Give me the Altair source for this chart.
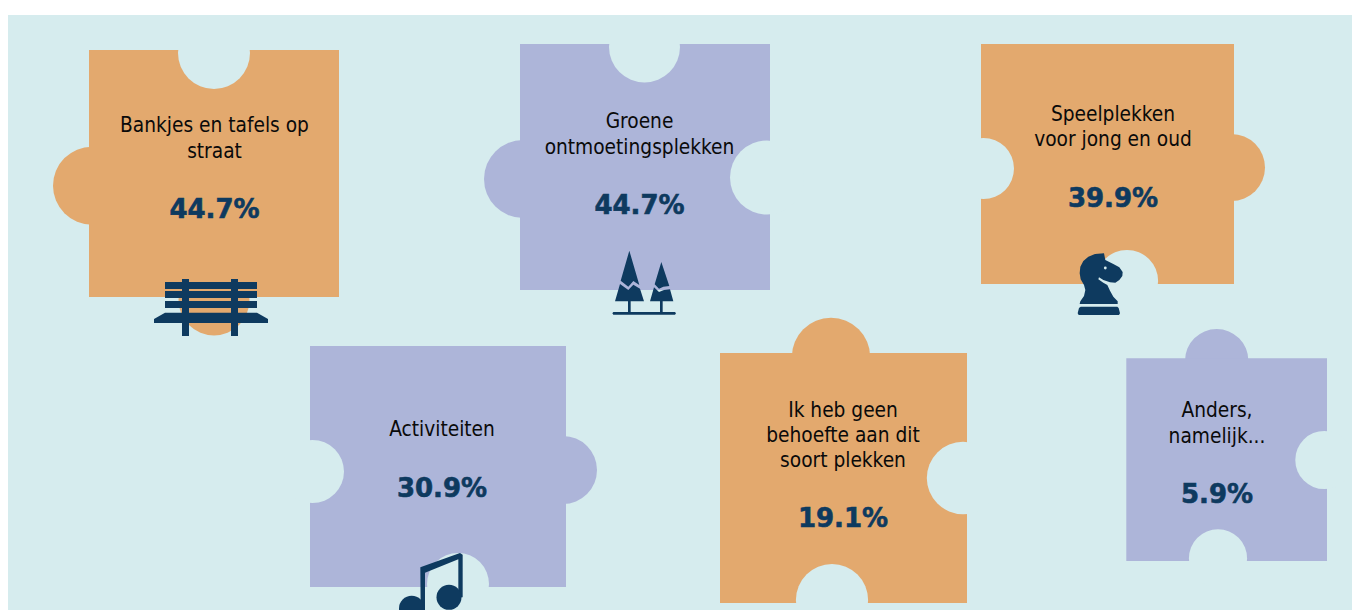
import altair as alt
import pandas as pd

# ---- content ----
labels = [
    ["Bankjes en tafels op", "straat"],
    ["Groene", "ontmoetingsplekken"],
    ["Speelplekken", "voor jong en oud"],
    ["Activiteiten"],
    ["Ik heb geen", "behoefte aan dit", "soort plekken"],
    ["Anders,", "namelijk..."],
]
percents = ["44.7%", "44.7%", "39.9%", "30.9%", "19.1%", "5.9%"]

BG = "#D6ECEE"
ORANGE = "#E3A96E"
LAV = "#ADB5D9"
NAVY = "#0E3A5F"
piece_colors = [ORANGE, LAV, ORANGE, LAV, ORANGE, LAV]

# page-pixel scale geometry of the pieces
rect_x1 = [89, 520, 981, 310, 720, 1126.3]
rect_x2 = [339, 770, 1234, 566, 967, 1327]
rect_y1 = [50, 44, 44, 346, 353, 358.3]
rect_y2 = [297, 290, 284, 587, 603, 561]

# tabs: piece index, cx, cy, r
tabs = [
    (0, 92, 185.7, 39), (0, 214, 300, 35.5),
    (1, 523, 179, 39),
    (2, 1231.4, 167.5, 33.6),
    (3, 563, 470, 34),
    (4, 831, 357, 39.2),
    (5, 1216.7, 360.7, 31.7),
]
# notches: cx, cy, r
notches = [
    (214, 53, 36),
    (644.5, 47, 35.5), (767, 177.5, 37),
    (983.4, 168.5, 30.6), (1127, 281, 31.1),
    (312.4, 471.5, 31.6), (458, 584, 31),
    (963, 478, 36.2), (832, 600, 36.1),
    (1324.4, 460, 29.1), (1218, 558.4, 29.1),
]

text_x = [214.5, 639.5, 1113, 442, 843, 1217]
label_base = [[132, 158], [128, 154], [121, 146], [436], [416.5, 441.5, 466.5], [417, 442.7]]
pct_base = [218, 214, 206.5, 497, 527, 503]


def poly(points, ox, oy, cx, cy):
    """SVG path from points in 3x zoom units, relative to the icon's centre."""
    parts = []
    for i, (zx, zy) in enumerate(points):
        px = ox + zx / 3 - cx
        py = oy + zy / 3 - cy
        parts.append(("M" if i == 0 else "L") + f"{px:.2f},{py:.2f}")
    return "".join(parts) + "Z"


# bench, origin (140,270)
bench_shapes = [
    [(75, 36), (351, 36), (351, 57), (75, 57)],
    [(75, 63), (351, 63), (351, 84), (75, 84)],
    [(75, 93), (351, 93), (351, 114), (75, 114)],
    [(126, 27), (147, 27), (147, 198), (126, 198)],
    [(273, 27), (294, 27), (294, 198), (273, 198)],
    [(75, 128), (351, 128), (384, 147), (384, 159), (42, 159), (42, 147)],
]
# trees, origin (590,230)
tree_shapes = [
    [(118, 62), (148, 165), (130, 153), (115, 170), (92, 152)],
    [(90, 162), (115, 180), (130, 164), (150, 176), (162, 214), (75, 214)],
    [(114, 214), (122, 214), (122, 248), (114, 248)],
    [(214, 96), (238, 168), (220, 170), (207, 176), (194, 163)],
    [(192, 172), (207, 186), (222, 180), (240, 178), (250, 214), (180, 214)],
    [(210, 214), (218, 214), (218, 248), (210, 248)],
    [(70, 246), (255, 246), (258, 250), (255, 254), (70, 254), (67, 250)],
]
# knight, origin (1060,240)
knight_shapes = [
    [(62, 200), (172, 200), (176, 204), (180, 220), (177, 225), (56, 225), (53, 220), (57, 204)],
    [(132, 40), (136, 60), (160, 72), (178, 82), (188, 96), (187, 108), (178, 120), (166, 128),
     (150, 127), (130, 120), (117, 112), (115, 118), (130, 128), (142, 135), (150, 152), (160, 170),
     (173, 184), (173, 192), (59, 192), (61, 184), (72, 168), (76, 150), (72, 135), (62, 118), (59, 100),
     (61, 80), (70, 63), (85, 50), (105, 42)],
]
# music note stems and beam, origin (380,540)
note_shapes = [
    [(121, 82), (240, 39), (248, 44), (248, 172), (235, 172), (235, 58), (135, 98), (135, 210), (122, 210)],
]
note_heads = [(449, 597.3, 12.5), (411.7, 608.5, 12.7)]
knight_eye = (1105.3, 268, 1.4)

icons = [
    (211, 307, bench_shapes, 140, 270),
    (645, 285, tree_shapes, 590, 230),
    (1100, 285, knight_shapes, 1060, 240),
    (440, 580, note_shapes, 380, 540),
]

X = alt.X("x:Q", axis=None, scale=alt.Scale(domain=[8, 1352], range=[0, 1344], nice=False, zero=False))
Y = alt.Y("y:Q", axis=None, scale=alt.Scale(domain=[610, 8], range=[602, 0], nice=False, zero=False))
X2 = alt.X2("x2:Q")
Y2 = alt.Y2("y2:Q")
FILL = alt.Color("c:N", scale=None, legend=None)
SIZE = alt.Size("s:Q", scale=None, legend=None)


def area(r):
    # Vega's circle symbol has diameter sqrt(size)
    return 4 * r * r


rect_rows = [dict(x=8, x2=1352, y=15, y2=610, c=BG)]
for i in range(6):
    rect_rows.append(dict(x=rect_x1[i], x2=rect_x2[i], y=rect_y1[i], y2=rect_y2[i], c=piece_colors[i]))
top_strip = [dict(x=8, x2=1352, y=8, y2=15, c="white")]
tab_rows = [dict(x=x, y=y, s=area(r), c=piece_colors[i]) for i, x, y, r in tabs]
notch_rows = [dict(x=x, y=y, s=area(r), c=BG) for x, y, r in notches]
head_rows = [dict(x=x, y=y, s=area(r), c=NAVY) for x, y, r in note_heads]
eye_rows = [dict(x=knight_eye[0], y=knight_eye[1], s=area(knight_eye[2]), c=BG)]

bg_layer = alt.Chart(pd.DataFrame(rect_rows[:1])).mark_rect(strokeWidth=0).encode(x=X, x2=X2, y=Y, y2=Y2, color=FILL)
tab_layer = alt.Chart(pd.DataFrame(tab_rows)).mark_circle(opacity=1).encode(x=X, y=Y, size=SIZE, color=FILL)
rect_layer = alt.Chart(pd.DataFrame(rect_rows[1:])).mark_rect(strokeWidth=0).encode(x=X, x2=X2, y=Y, y2=Y2, color=FILL)
notch_layer = alt.Chart(pd.DataFrame(notch_rows)).mark_circle(opacity=1).encode(x=X, y=Y, size=SIZE, color=FILL)
strip_layer = alt.Chart(pd.DataFrame(top_strip)).mark_rect(strokeWidth=0).encode(x=X, x2=X2, y=Y, y2=Y2, color=FILL)

layers = [bg_layer, tab_layer, rect_layer, notch_layer, strip_layer]

for cx, cy, shapes, ox, oy in icons:
    path = "".join(poly(s, ox, oy, cx, cy) for s in shapes)
    layers.append(
        alt.Chart(pd.DataFrame([dict(x=cx, y=cy)]))
        .mark_point(shape=path, size=4, filled=True, opacity=1, color=NAVY, strokeWidth=0)
        .encode(x=X, y=Y)
    )
layers.append(alt.Chart(pd.DataFrame(head_rows)).mark_circle(opacity=1).encode(x=X, y=Y, size=SIZE, color=FILL))
layers.append(alt.Chart(pd.DataFrame(eye_rows)).mark_circle(opacity=1).encode(x=X, y=Y, size=SIZE, color=FILL))

label_rows = []
for i, lines in enumerate(labels):
    for line, b in zip(lines, label_base[i]):
        label_rows.append(dict(x=text_x[i], y=b, t=line))
pct_rows = [dict(x=text_x[i], y=pct_base[i], t=percents[i]) for i in range(6)]

layers.append(
    alt.Chart(pd.DataFrame(label_rows))
    .mark_text(font="DejaVu Sans Condensed", fontSize=20.7, color="#0A0A0A", align="center", baseline="alphabetic")
    .encode(x=X, y=Y, text="t:N")
)
layers.append(
    alt.Chart(pd.DataFrame(pct_rows))
    .mark_text(font="DejaVu Sans", fontWeight="bold", fontSize=26, color=NAVY, stroke=NAVY, strokeWidth=0.6,
               align="center", baseline="alphabetic")
    .encode(x=X, y=Y, text="t:N")
)

chart = (
    alt.layer(*layers)
    .properties(width=1344, height=602, padding=0, background="white",
                autosize=alt.AutoSizeParams(type="none"))
    .configure_view(strokeWidth=0)
)
chart.save("out.html", embed_options={"renderer": "svg", "actions": False})
